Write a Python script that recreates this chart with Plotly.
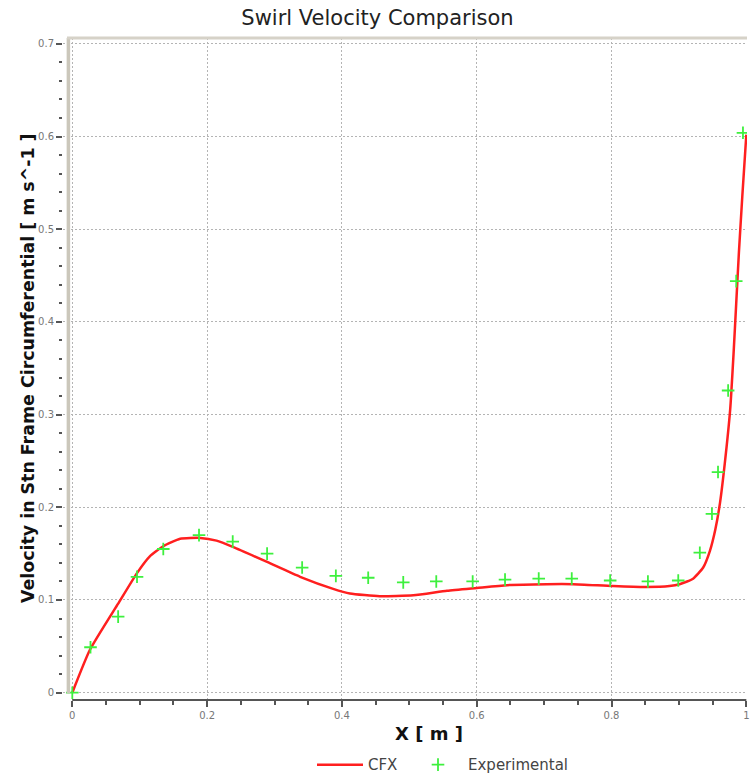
import plotly.graph_objects as go

# CFX prediction
cfx_x = [0, 0.026, 0.068, 0.096, 0.115, 0.135, 0.16, 0.19, 0.214, 0.239, 0.289, 0.338, 0.387, 0.412,
         0.456, 0.506, 0.556, 0.60, 0.645, 0.704, 0.743, 0.802, 0.851, 0.886, 0.901, 0.921, 0.936,
         0.946, 0.954, 0.961, 0.968, 0.976, 0.981, 0.985, 0.989, 0.994, 1.0]
cfx_y = [0, 0.046, 0.096, 0.129, 0.147, 0.158, 0.166, 0.167, 0.164, 0.157, 0.141, 0.125, 0.112, 0.107,
         0.104, 0.105, 0.110, 0.113, 0.116, 0.117, 0.117, 0.115, 0.114, 0.115, 0.117, 0.123, 0.135,
         0.153, 0.176, 0.205, 0.247, 0.305, 0.365, 0.420, 0.475, 0.535, 0.602]

# Experimental data
exp_x = [0, 0.027, 0.068, 0.096, 0.135, 0.188, 0.238, 0.289, 0.341, 0.391, 0.439, 0.491, 0.54,
         0.594, 0.642, 0.692, 0.741, 0.798, 0.854, 0.899, 0.931, 0.949, 0.958, 0.973, 0.985, 0.995]
exp_y = [0, 0.049, 0.082, 0.125, 0.155, 0.170, 0.163, 0.150, 0.135, 0.126, 0.124, 0.119, 0.120,
         0.120, 0.122, 0.123, 0.123, 0.121, 0.120, 0.121, 0.151, 0.193, 0.238, 0.326, 0.444, 0.604]

x_ticks = [0, 0.2, 0.4, 0.6, 0.8, 1]
x_ticklabels = ["0", "0.2", "0.4", "0.6", "0.8", "1"]
y_ticks = [0, 0.1, 0.2, 0.3, 0.4, 0.5, 0.6, 0.7]
y_ticklabels = ["0", "0.1", "0.2", "0.3", "0.4", "0.5", "0.6", "0.7"]

title_text = "Swirl Velocity Comparison"
x_title = "X [ m ]"
y_title = "Velocity in Stn Frame Circumferential [ m s^-1 ]"

fig = go.Figure()
fig.add_trace(go.Scatter(x=cfx_x, y=cfx_y, mode="lines", name="CFX", legend="legend",
                         line=dict(color="#ff1f1f", width=2.5, shape="spline", smoothing=0.5)))
fig.add_trace(go.Scatter(x=exp_x, y=exp_y, mode="markers", name="Experimental", legend="legend2",
                         marker=dict(symbol="cross-thin", size=9,
                                     line=dict(color="#3ef03e", width=1.8), color="#3ef03e")))

tickfont = dict(family="DejaVu Sans", size=10, color="#777777")
grid = dict(showgrid=True, gridcolor="#b4b4b4", griddash="2px,2px", gridwidth=1)
legfont = dict(family="DejaVu Sans", size=15, color="#444444")

fig.update_layout(
    width=755, height=780,
    margin=dict(l=63, r=8, t=38, b=80, autoexpand=False),
    paper_bgcolor="white", plot_bgcolor="white",
    title=dict(text=title_text, x=0.5, xanchor="center", y=1 - 18 / 780, yanchor="middle",
               font=dict(family="DejaVu Sans", size=21, color="#222222")),
    showlegend=True,
    legend=dict(orientation="h", x=(312 - 63) / 684, xanchor="left", y=-0.098, yanchor="middle",
                font=legfont, itemwidth=46, bgcolor="rgba(0,0,0,0)"),
    legend2=dict(orientation="h", x=(408 - 63) / 684, xanchor="left", y=-0.098, yanchor="middle",
                 font=legfont, itemwidth=50, bgcolor="rgba(0,0,0,0)"),
    xaxis=dict(range=[-0.0138, 1.001], tickvals=x_ticks, ticktext=x_ticklabels, **grid,
               zeroline=False, showline=False, ticks="outside", ticklen=6, tickwidth=2,
               tickcolor="#555555", tickfont=tickfont,
               minor=dict(dtick=0.05, tick0=0, ticks="outside", ticklen=4, tickwidth=1.5,
                          tickcolor="#555555", showgrid=False)),
    yaxis=dict(range=[-0.0079, 0.7063], tickvals=y_ticks, ticktext=y_ticklabels, **grid,
               zeroline=False, showline=False, ticks="outside", ticklen=6, tickwidth=1.5,
               tickcolor="#555555", tickfont=tickfont,
               minor=dict(dtick=0.02, tick0=0, ticks="outside", ticklen=3, tickwidth=1.5,
                          tickcolor="#555555", showgrid=False)),
    annotations=[
        dict(text=y_title, textangle=-90, xref="paper", yref="paper",
             x=(28 - 63) / 684, y=(700 - 368) / 662, xanchor="center", yanchor="middle",
             showarrow=False, font=dict(family="DejaVu Sans", size=17.4, color="#111111",
                                        weight="bold")),
        dict(text=x_title, xref="paper", yref="paper",
             x=(429 - 63) / 684, y=(700 - 733) / 662, xanchor="center", yanchor="middle",
             showarrow=False, font=dict(family="DejaVu Sans", size=18, color="#111111",
                                        weight="bold")),
    ],
    shapes=[
        # x axis line (offset below data area)
        dict(type="line", xref="x", yref="paper", x0=0, x1=1, y0=0, y1=0,
             line=dict(color="#555555", width=2)),
        # frame: left beige bar and top border
        dict(type="line", xref="x", yref="paper", x0=-0.0058, x1=-0.0058, y0=0.01, y1=1,
             line=dict(color="#cbc7bb", width=3.5)),
        dict(type="line", xref="x", yref="paper", x0=-0.0079, x1=1.005, y0=1, y1=1,
             line=dict(color="#d6d2c8", width=3)),
    ],
)

fig.write_html("out.html")
